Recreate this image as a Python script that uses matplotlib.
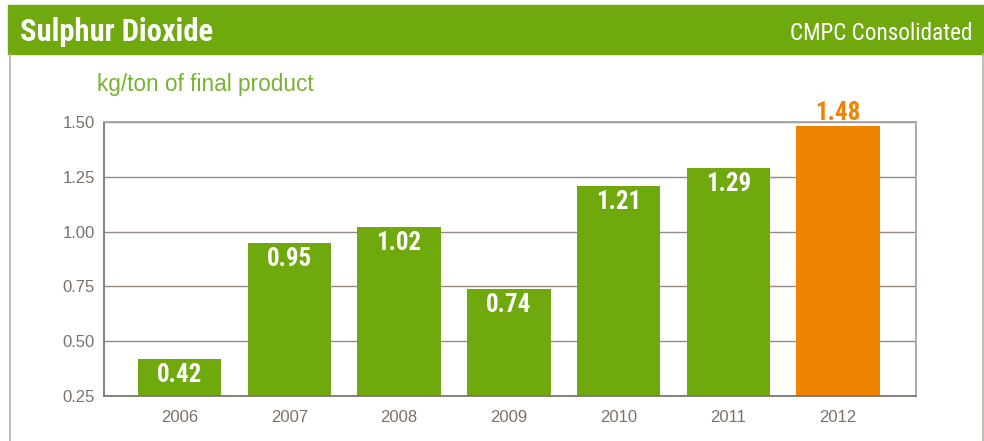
import matplotlib
matplotlib.use("Agg")
import matplotlib.pyplot as plt
from matplotlib.patches import Rectangle
from matplotlib.lines import Line2D

years = ["2006", "2007", "2008", "2009", "2010", "2011", "2012"]
so2 = [0.42, 0.95, 1.02, 0.74, 1.21, 1.29, 1.48]
yticks = [0.25, 0.50, 0.75, 1.00, 1.25, 1.50]

GREEN = "#6fa90e"
ORANGE = "#f08300"
GREY_TXT = "#7a726a"
NARROW = ["Roboto Condensed", "Liberation Sans Narrow", "Roboto", "DejaVu Sans"]
PLAIN = ["Liberation Sans", "DejaVu Sans"]

W, H = 984, 441
fig = plt.figure(figsize=(W / 100, H / 100), dpi=100)

def fx(px):
    return px / W

def fy(py):
    return 1 - py / H

# header band and panel outline
fig.patches.append(Rectangle((fx(8), fy(54)), 1 - fx(8), fy(5) - fy(54),
                             transform=fig.transFigure, color=GREEN, zorder=0))
for x in (9.5, 982.5):
    fig.lines.append(Line2D([fx(x), fx(x)], [fy(54), 0], transform=fig.transFigure,
                            color="#b5b1ad", lw=1.2))
fig.text(fx(20), fy(32), "Sulphur Dioxide", family=NARROW, weight="bold",
         fontsize=22, color="white", va="center", ha="left")
fig.text(fx(972), fy(33), "CMPC Consolidated", family=NARROW,
         fontsize=16.7, color="white", va="center", ha="right")
fig.text(fx(97), fy(85), "kg/ton of final product", fontsize=16.3,
         family=PLAIN, color="#79b233", va="center", ha="left")

ax = fig.add_axes([fx(104), fy(396), fx(916) - fx(104), fy(122) - fy(396)])
x = list(range(len(years)))
colors = [GREEN] * (len(years) - 1) + [ORANGE]
ax.bar(x, so2, bottom=0, width=0.76, color=colors, zorder=2)
ax.set_ylim(0.25, 1.50)
ax.set_xlim(-0.69, 6.71)
ax.set_yticks(yticks)
ax.set_yticklabels([f"{v:.2f}" for v in yticks])
ax.set_xticks(x)
ax.set_xticklabels(years)
ax.grid(axis="y", color="#948c84", lw=1, zorder=1)
ax.tick_params(length=0, labelsize=12, labelcolor=GREY_TXT)
ax.tick_params(axis="y", pad=6.5)
ax.tick_params(axis="x", pad=10)
for lab in ax.get_xticklabels() + ax.get_yticklabels():
    lab.set_family(PLAIN)
for s in ("left", "bottom"):
    ax.spines[s].set_color("#7d766e")
    ax.spines[s].set_linewidth(1.3)
for s in ("top", "right"):
    ax.spines[s].set_color("#a9a39d")
    ax.spines[s].set_linewidth(1.3)

# value labels: white inside the bar, orange above the highlighted year
for i, v in enumerate(so2):
    if i == len(so2) - 1:
        ax.text(i, v + 0.027, f"{v:.2f}", ha="center", va="baseline", family=NARROW,
                weight="bold", fontsize=18, color=ORANGE, clip_on=False)
    else:
        ax.text(i, v - 0.073, f"{v:.2f}", ha="center", va="center", family=NARROW,
                weight="bold", fontsize=18, color="white")

fig.savefig("out.png", dpi=100)
